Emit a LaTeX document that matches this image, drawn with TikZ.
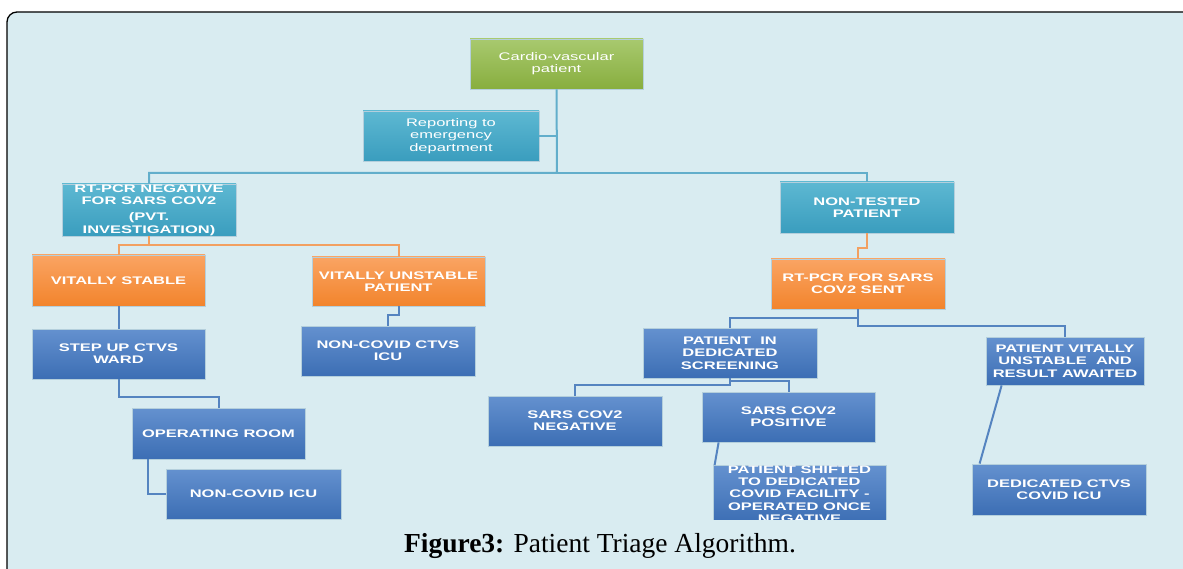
\documentclass[tikz,border=0pt]{standalone}
\usepackage{fontspec}
\setmainfont{Liberation Serif}
\newfontfamily\boxfont[FakeStretch=1.5]{Liberation Sans}
\usetikzlibrary{calc}
\definecolor{bg}{HTML}{D9ECF1}
\definecolor{greenT}{HTML}{A8C96F}
\definecolor{greenB}{HTML}{88AE3E}
\definecolor{tealT}{HTML}{5DB8D2}
\definecolor{tealB}{HTML}{3A9DBE}
\definecolor{orangeT}{HTML}{FAA463}
\definecolor{orangeB}{HTML}{F2842C}
\definecolor{blueT}{HTML}{6491CF}
\definecolor{blueB}{HTML}{3C6EB4}
\definecolor{boxedge}{HTML}{B4CFDC}
\definecolor{tealline}{HTML}{62AECB}
\definecolor{orangeline}{HTML}{F2A061}
\definecolor{blueline}{HTML}{5584C0}
\tikzset{
  basebox/.style={draw=boxedge, line width=0.8pt, inner sep=0pt, text=white, align=center,
    font=\boxfont\bfseries\fontsize{11}{12.3}\selectfont, minimum width=173pt, minimum height=50pt},
  regtext/.style={font=\boxfont\fontsize{11}{12.3}\selectfont},
  greenbox/.style={basebox, top color=greenT, bottom color=greenB, regtext},
  tealbox/.style={basebox, top color=tealT, bottom color=tealB},
  orangebox/.style={basebox, top color=orangeT, bottom color=orangeB},
  bluebox/.style={basebox, top color=blueT, bottom color=blueB},
  tl/.style={draw=tealline, line width=2pt},
  ol/.style={draw=orangeline, line width=2pt},
  bl/.style={draw=blueline, line width=2pt},
}
\begin{document}
\begin{tikzpicture}[x=1pt,y=-1pt]
\useasboundingbox (0,0) rectangle (1183,569);
\clip (0,0) rectangle (1183,569);
\fill[white] (0,0) rectangle (1183,569);
\draw[black, line width=1.3pt, fill=bg, rounded corners=10pt] (7,12) rectangle (1205,595);

\begin{scope}
\clip (0,0) rectangle (1183,519);
\coordinate (hub) at (557,173);
\coordinate (ohub) at (149,245);
\coordinate (bhub1) at (858,318);
\coordinate (bhub2) at (858,326);
\coordinate (shub1) at (730,385);
\coordinate (shub2) at (730,381);

\node[greenbox] (cardio) at (556.5,64) {Cardio-vascular\\patient};
\node[tealbox, regtext, minimum width=176pt] (report) at (451,136) {Reporting to\\emergency\\department};
\node[tealbox, minimum width=174pt, minimum height=52pt] (rtneg) at (149,210) {RT-PCR NEGATIVE\\FOR SARS COV2\\[4pt](PVT.\\INVESTIGATION)};
\node[orangebox, minimum height=51pt] (stable) at (118.5,280.5) {VITALLY STABLE};
\node[orangebox, minimum height=49pt] (unstable) at (398.5,281.5) {VITALLY UNSTABLE\\PATIENT};
\node[bluebox] (ward) at (118.5,354) {STEP UP CTVS\\WARD};
\node[bluebox, minimum width=174pt] (ncctvs) at (388,351) {NON-COVID CTVS\\ICU};
\node[bluebox, minimum height=51pt] (oproom) at (218.5,433.5) {OPERATING ROOM};
\node[bluebox, minimum width=175pt] (ncicu) at (253.5,494) {NON-COVID ICU};
\node[tealbox, minimum width=174pt, minimum height=51pt] (nontested) at (867,207.5) {NON-TESTED\\PATIENT};
\node[orangebox, minimum width=174pt] (rtsent) at (858,284) {RT-PCR FOR SARS\\COV2 SENT};
\node[bluebox, minimum width=174pt] (screen) at (730,353) {PATIENT\ \ IN\\DEDICATED\\SCREENING};
\node[bluebox, minimum width=158pt, minimum height=48pt] (unstab2) at (1065,361) {PATIENT VITALLY\\UNSTABLE\ \ AND\\RESULT AWAITED};
\node[bluebox, minimum width=174pt] (neg) at (575,421) {SARS COV2\\NEGATIVE};
\node[bluebox] (pos) at (788.5,417) {SARS COV2\\POSITIVE};
\node[bluebox] (shifted) at (799.5,494) {PATIENT SHIFTED\\TO DEDICATED\\COVID FACILITY -\\OPERATED ONCE\\NEGATIVE};
\node[bluebox, minimum width=174pt, minimum height=51pt] (dedicu) at (1059,489.5) {DEDICATED CTVS\\COVID ICU};

\draw[tl] (cardio.south) -- (hub) -| (rtneg.north);
\draw[tl] (hub) -| (nontested.north);
\draw[tl] (report.east) -- (report.east -| hub);
\draw[ol] (rtneg.south) -- (ohub) -| (stable.north);
\draw[ol] (ohub) -| (unstable.north);
\draw[ol] (nontested.south) |- ($(rtsent.north)+(0,-11)$) -| (rtsent.north);
\draw[bl] (stable.south) -- (ward.north);
\draw[bl] (ward.south) -- ++(0,18) -| (oproom.north);
\draw[bl] ($(oproom.south west)+(16,0)$) |- (ncicu.west);
\draw[bl] (unstable.south) -- ++(0,9) -| (ncctvs.north);
\draw[bl] (rtsent.south) -- (bhub1) -| (screen.north);
\draw[bl] (bhub1) -- (bhub2) -| (unstab2.north);
\draw[bl] (screen.south) -- (shub1) -| (neg.north);
\draw[bl] (shub2) -| (pos.north);
\draw[bl] ($(pos.south west)+(17,0)$) -- ($(shifted.north west)+(2,0)$);
\draw[bl] ($(unstab2.south west)+(16,0)$) -- ($(dedicu.north west)+(8,0)$);
\end{scope}

\node[anchor=base, inner sep=0pt] (cap) at (600,552) {\fontsize{27.5}{32}\selectfont\textbf{Figure3:} Patient Triage Algorithm.};
\end{tikzpicture}
\end{document}
